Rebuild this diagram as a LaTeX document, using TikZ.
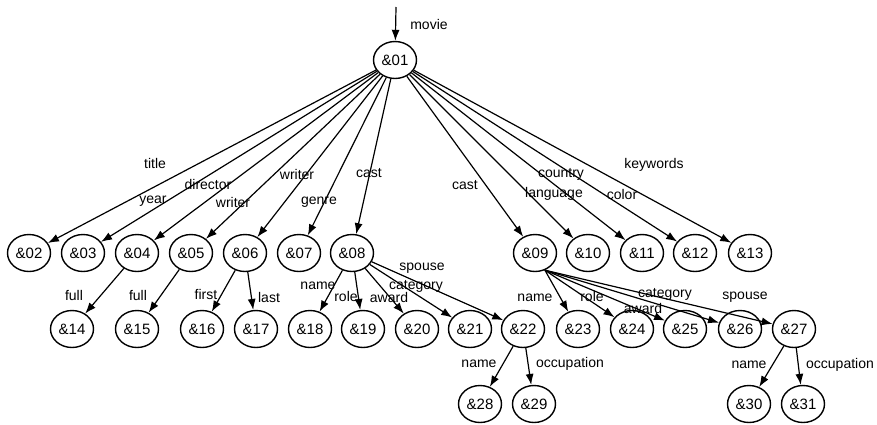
\documentclass[tikz,border=0pt]{standalone}
\usepackage{fontspec}
\setmainfont{Liberation Sans}
\usetikzlibrary{shapes.geometric,arrows.meta}
\tikzset{
  obj/.style={draw, ellipse, minimum width=43pt, minimum height=37pt, inner sep=0pt, line width=1.4pt, font=\fontsize{15}{17}\selectfont},
  arr/.style={line width=1.2pt, -{Latex[length=11pt,width=8pt]}},
  lbl/.style={inner sep=0pt, font=\fontsize{14}{16}\selectfont}
}
\begin{document}
\begin{tikzpicture}[x=1pt,y=-1pt]
\useasboundingbox (0,0) rectangle (877,424);
% nodes
\node[obj] (n01) at (395,60) {\&01};
\node[obj] (n02) at (29,253) {\&02};
\node[obj] (n03) at (83,253) {\&03};
\node[obj] (n04) at (137,253) {\&04};
\node[obj] (n05) at (191,253) {\&05};
\node[obj] (n06) at (245,253) {\&06};
\node[obj] (n07) at (299,253) {\&07};
\node[obj] (n08) at (352,253) {\&08};
\node[obj] (n09) at (535,253) {\&09};
\node[obj] (n10) at (588,253) {\&10};
\node[obj] (n11) at (642,253) {\&11};
\node[obj] (n12) at (695,253) {\&12};
\node[obj] (n13) at (750,253) {\&13};
\node[obj] (n14) at (72,329) {\&14};
\node[obj] (n15) at (137,329) {\&15};
\node[obj] (n16) at (202,329) {\&16};
\node[obj] (n17) at (256,329) {\&17};
\node[obj] (n18) at (310,329) {\&18};
\node[obj] (n19) at (363,329) {\&19};
\node[obj] (n20) at (417,329) {\&20};
\node[obj] (n21) at (470,329) {\&21};
\node[obj] (n22) at (523,329) {\&22};
\node[obj] (n23) at (578,329) {\&23};
\node[obj] (n24) at (632,329) {\&24};
\node[obj] (n25) at (685,329) {\&25};
\node[obj] (n26) at (740,329) {\&26};
\node[obj] (n27) at (794,329) {\&27};
\node[obj] (n28) at (480,404) {\&28};
\node[obj] (n29) at (534,404) {\&29};
\node[obj] (n30) at (749,404) {\&30};
\node[obj] (n31) at (803,404) {\&31};
% root arrow
\coordinate (top) at (396,7);
\draw[arr] (top) -- (n01);
\node[lbl] (lmovie) at (429,24) {movie};
% edges from 01
\draw[arr] (n01) -- (n02);
\draw[arr] (n01) -- (n03);
\draw[arr] (n01) -- (n04);
\draw[arr] (n01) -- (n05);
\draw[arr] (n01) -- (n06);
\draw[arr] (n01) -- (n07);
\draw[arr] (n01) -- (n08);
\draw[arr] (n01) -- (n09);
\draw[arr] (n01) -- (n10);
\draw[arr] (n01) -- (n11);
\draw[arr] (n01) -- (n12);
\draw[arr] (n01) -- (n13);
\node[lbl] (l02) at (155,163) {title};
\node[lbl] (l03) at (153,201) {year};
\node[lbl] (l04) at (208,184) {director};
\node[lbl] (l05) at (233,202) {writer};
\node[lbl] (l06) at (297,174) {writer};
\node[lbl] (l07) at (319,202) {genre};
\node[lbl] (l08) at (369,173) {cast};
\node[lbl] (l09) at (465,185) {cast};
\node[lbl] (l10) at (554,194) {language};
\node[lbl] (l11) at (561,174) {country};
\node[lbl] (l12) at (622,194) {color};
\node[lbl] (l13) at (654,165) {keywords};
% second level
\draw[arr] (n04) -- (n14);
\draw[arr] (n05) -- (n15);
\draw[arr] (n06) -- (n16);
\draw[arr] (n06) -- (n17);
\node[lbl] (l14) at (74,295) {full};
\node[lbl] (l15) at (138,295) {full};
\node[lbl] (l16) at (206,294) {first};
\node[lbl] (l17) at (269,297) {last};
\draw[arr] (n08) -- (n18);
\draw[arr] (n08) -- (n19);
\draw[arr] (n08) -- (n20);
\draw[arr] (n08) -- (n21);
\draw[arr] (n08) -- (n22);
\node[lbl] (l18) at (318,286) {name};
\node[lbl] (l19) at (346,296) {role};
\node[lbl] (l20) at (389,297) {award};
\node[lbl] (l21) at (416,286) {category};
\node[lbl] (l22) at (422,268) {spouse};
\coordinate (o9) at (n09.-60);
\draw[arr] (o9) -- (n23);
\draw[arr] (o9) -- (n24);
\draw[arr] (o9) -- (n25);
\draw[arr] (o9) -- (n26);
\draw[arr] (o9) -- (n27);
\node[lbl] (l23) at (535,298) {name};
\node[lbl] (l24) at (592,296) {role};
\node[lbl] (l25) at (643,308) {award};
\node[lbl] (l26) at (665,294) {category};
\node[lbl] (l27) at (745,297) {spouse};
% third level
\draw[arr] (n22) -- (n28);
\draw[arr] (n22) -- (n29);
\draw[arr] (n27) -- (n30);
\draw[arr] (n27) -- (n31);
\node[lbl] (l28) at (479,364) {name};
\node[lbl] (l29) at (570,364) {occupation};
\node[lbl] (l30) at (749,365) {name};
\node[lbl] (l31) at (840,365) {occupation};
\end{tikzpicture}
\end{document}
